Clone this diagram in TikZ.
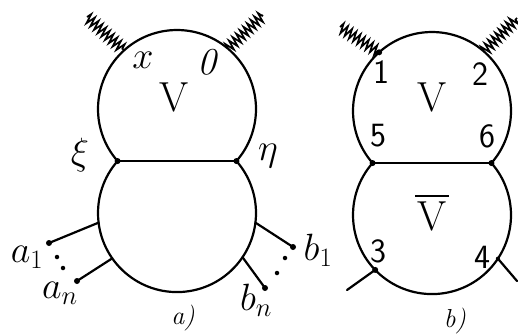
\RequirePackage{fix-cm}
\documentclass[tikz,border=0pt]{standalone}
\usetikzlibrary{calc,decorations.pathmorphing}
\begin{document}
\begin{tikzpicture}[x=1pt,y=-1pt,
  ln/.style={line width=2.2pt,line cap=round,line join=round},
  wig/.style={line width=1.7pt,decorate,decoration={zigzag,segment length=5pt,amplitude=5pt}},
  vdot/.style={circle,fill,inner sep=0pt,minimum size=6pt},
  lab/.style={inner sep=0pt,font=\fontsize{38}{38}\selectfont},
  num/.style={inner sep=0pt,font=\fontsize{34}{34}\selectfont\sffamily},
  big/.style={inner sep=0pt,font=\fontsize{42}{42}\selectfont},
  captxt/.style={inner sep=0pt,font=\fontsize{26}{26}\selectfont\itshape}]
\useasboundingbox (0,0) rectangle (518,333);
% ---------- (a) ----------
\coordinate (uca) at (177,109);
\coordinate (lca) at (177,213);
\coordinate (xi) at ($(uca)+(138.8:79)$);
\coordinate (eta) at ($(uca)+(41.2:79)$);
\draw[ln] (xi) arc[start angle=138.8,end angle=401.2,radius=79];
\draw[ln] (xi) arc[start angle=221.2,end angle=-41.2,radius=79];
\draw[ln] (xi) -- (eta);
\node[vdot] at (xi) {};
\node[vdot] at (eta) {};
\coordinate (wa1) at ($(uca)+(228:79)$);
\coordinate (wa2) at ($(uca)+(310:79)$);
\coordinate (wa1e) at (87,17);
\coordinate (wa2e) at (263,15);
\draw[wig] (wa1e) -- (wa1);
\draw[wig] (wa2) -- (wa2e);
\coordinate (pa1) at ($(lca)+(173:79)$);
\coordinate (pan) at ($(lca)+(145:79)$);
\coordinate (pb1) at ($(lca)+(7:79)$);
\coordinate (pbn) at ($(lca)+(34:79)$);
\node[vdot] (ea1) at (49,243) {};
\node[vdot] (ean) at (77,281) {};
\node[vdot] (eb1) at (293,247) {};
\node[vdot] (ebn) at (265,288) {};
\draw[ln] (pa1) -- (ea1.center);
\draw[ln] (pan) -- (ean.center);
\draw[ln] (pb1) -- (eb1.center);
\draw[ln] (pbn) -- (ebn.center);
\node[vdot,minimum size=4.5pt] (da1) at (57,257) {};
\node[vdot,minimum size=4.5pt] (da2) at (63,268) {};
\node[vdot,minimum size=4.5pt] (db1) at (285,258) {};
\node[vdot,minimum size=4.5pt] (db2) at (277,273) {};
\node[lab] (lx) at (143,60) {$x$};
\node[lab] (lo) at (207,62) {\itshape 0};
\node[big] (lva) at (174,97) {V};
\node[lab] (lxi) at (80,155) {$\xi$};
\node[lab] (leta) at (268,156) {$\eta$};
\node[lab] (la1) at (27,257) {$a_1$};
\node[lab] (lan) at (60,293) {$a_n$};
\node[lab] (lb1) at (318,250) {$b_1$};
\node[lab] (lbn) at (256,300) {$b_n$};
\node[captxt] (capa) at (183,318) {a)};
% ---------- (b) ----------
\coordinate (ucb) at (432,111);
\coordinate (lcb) at (432,215);
\coordinate (v5) at ($(ucb)+(138.8:79)$);
\coordinate (v6) at ($(ucb)+(41.2:79)$);
\draw[ln] (v5) arc[start angle=138.8,end angle=401.2,radius=79];
\draw[ln] (v5) arc[start angle=221.2,end angle=-41.2,radius=79];
\draw[ln] (v5) -- (v6);
\node[vdot] at (v5) {};
\node[vdot] at (v6) {};
\coordinate (v1) at ($(ucb)+(228:79)$);
\coordinate (v2) at ($(ucb)+(311:79)$);
\coordinate (v3) at ($(lcb)+(136:79)$);
\coordinate (v4) at ($(lcb)+(33.5:79)$);
\node[vdot] at (v1) {};
\node[vdot] at (v3) {};
\node[vdot,minimum size=4pt] at (v4) {};
\coordinate (w1e) at (340,27);
\coordinate (w2e) at (517,18);
\draw[wig] (w1e) -- (v1);
\draw[wig] (v2) -- (w2e);
\coordinate (e3) at (347,290);
\coordinate (e4) at (517,281);
\draw[ln] (v3) -- (e3);
\draw[ln] (v4) -- (e4);
\node[num] (l1) at (381,72) {1};
\node[num] (l2) at (480,74) {2};
\node[big] (lvb) at (432,97) {V};
\node[num] (l5) at (378,136) {5};
\node[num] (l6) at (487,136) {6};
\node[big] (lvbar) at (432,216) {V};
\draw[line width=2pt] ([xshift=-2pt,yshift=5pt]lvbar.north west) -- ([xshift=2pt,yshift=5pt]lvbar.north east);
\node[num] (l3) at (378,251) {3};
\node[num] (l4) at (482,257) {4};
\node[captxt] (capb) at (455,321) {b)};
\end{tikzpicture}
\end{document}
